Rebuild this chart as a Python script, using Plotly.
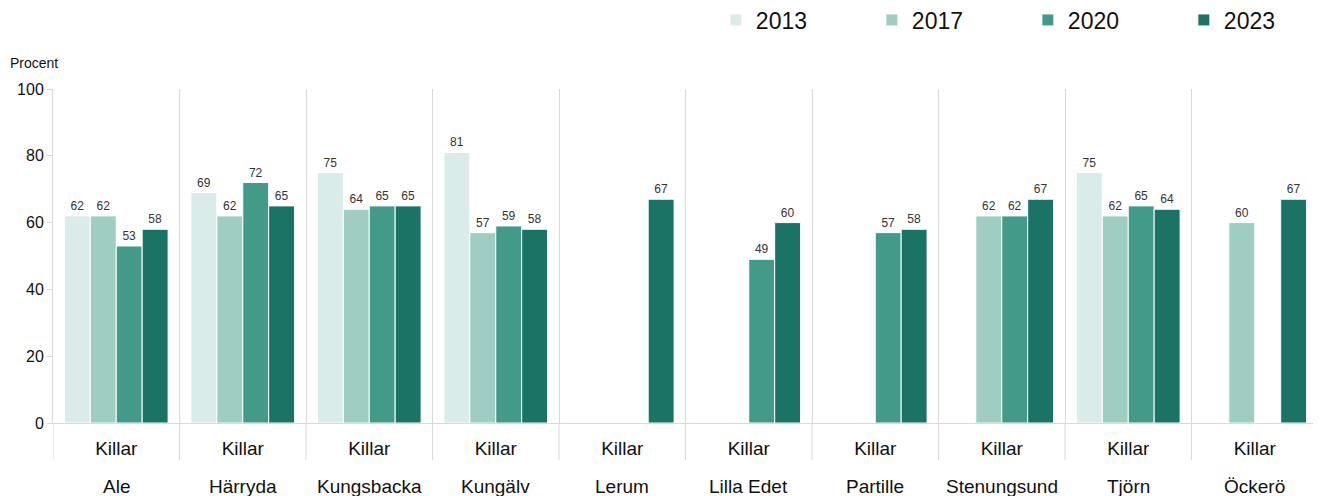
import plotly.graph_objects as go

towns = ["Ale", "Härryda", "Kungsbacka", "Kungälv", "Lerum", "Lilla Edet",
         "Partille", "Stenungsund", "Tjörn", "Öckerö"]
group_label = "Killar"
years = ["2013", "2017", "2020", "2023"]
v2013 = [62, 69, 75, 81, None, None, None, None, 75, None]
v2017 = [62, 62, 64, 57, None, None, None, 62, 62, 60]
v2020 = [53, 72, 65, 59, None, 49, 57, 62, 65, None]
v2023 = [58, 65, 65, 58, 67, 60, 58, 67, 64, 67]
colors = ["#daecea", "#9fcdc1", "#449a89", "#1b7366"]

FONT = "Liberation Sans, Arial, sans-serif"
GRID = "#d9d9d9"

fig = go.Figure()
for name, vals, col in zip(years, [v2013, v2017, v2020, v2023], colors):
    fig.add_trace(go.Bar(
        x=towns, y=vals, name=name,
        marker=dict(color=col, line=dict(color="#ffffff", width=1)),
        text=[("" if v is None else str(v)) for v in vals],
        textposition="outside", textangle=0,
        textfont=dict(size=12, color="#333333", family=FONT),
        cliponaxis=False,
    ))

fig.update_layout(
    width=1313, height=488,
    barmode="group", bargap=0.18, bargroupgap=0,
    plot_bgcolor="white", paper_bgcolor="white",
    font=dict(family=FONT, color="#111111"),
    margin=dict(l=45, r=3, t=81, b=73, autoexpand=False),
    showlegend=True,
    legend=dict(orientation="h", x=0.524, xanchor="left", y=1.2066, yanchor="middle",
                font=dict(size=23, color="#111111"), entrywidth=111,
                itemclick=False, traceorder="normal"),
)
fig.update_xaxes(
    type="category", tickson="boundaries", showgrid=True,
    gridcolor=GRID, gridwidth=1, showline=True, linecolor=GRID,
    tickvals=towns, ticktext=[group_label] * len(towns),
    ticks="", ticklabelstandoff=8,
    tickfont=dict(size=19, color="#111111"), automargin=False,
    range=[-0.5, len(towns) - 0.5],
)
fig.update_yaxes(
    range=[0, 100], tickvals=[0, 20, 40, 60, 80, 100], showgrid=False,
    showline=True, linecolor=GRID, ticks="outside", ticklen=5,
    tickcolor=GRID, tickfont=dict(size=16, color="#111111"),
    zeroline=False, automargin=False,
)
# dividers below the axis between groups
for i in range(len(towns) + 1):
    fig.add_shape(type="line", xref="x", yref="paper",
                  x0=i - 0.5, x1=i - 0.5, y0=0, y1=-0.111,
                  line=dict(color=GRID, width=1))
# outer category labels (town names)
for t in towns:
    fig.add_annotation(text=t, xref="x", yref="paper", x=t, y=-0.1916,
                       xanchor="center", yanchor="middle", showarrow=False,
                       font=dict(size=19, color="#111111"))
fig.add_annotation(text="Procent", xref="paper", yref="paper",
                   x=-0.0356, y=1.0778, xanchor="left", yanchor="middle",
                   showarrow=False, font=dict(size=14, color="#111111"))

fig.write_html("out.html")
